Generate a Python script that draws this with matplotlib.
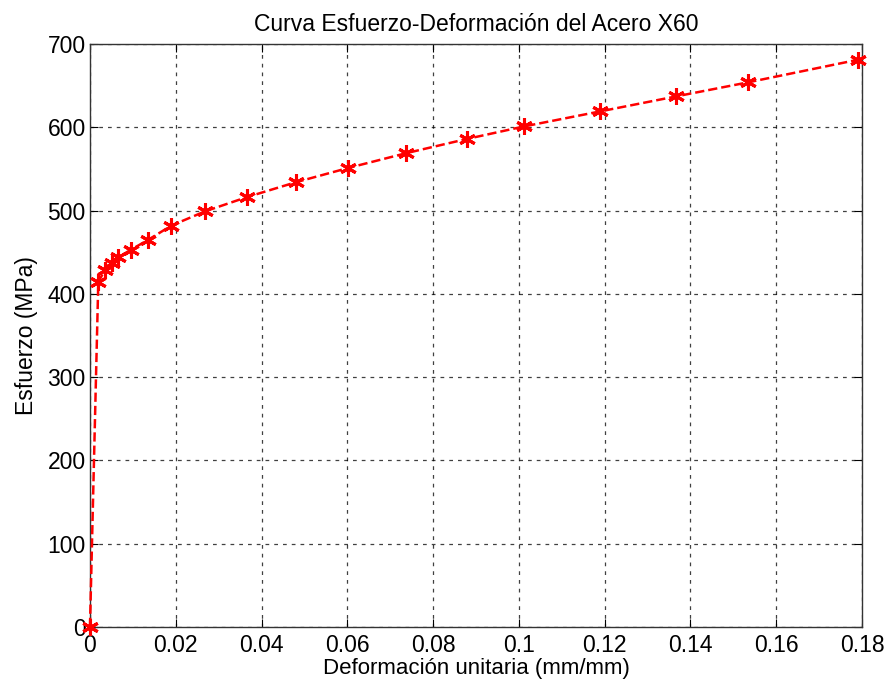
import matplotlib
matplotlib.use("Agg")
import matplotlib.pyplot as plt
import numpy as np

plt.rcParams['font.family'] = ['Liberation Sans', 'DejaVu Sans']

# strain (mm/mm) and stress (MPa)
deformacion = [0.0, 0.00194, 0.0035, 0.00506, 0.0066, 0.00956, 0.0136, 0.0190,
               0.0268, 0.0365, 0.0480, 0.0601, 0.0738, 0.0879, 0.1012, 0.1189,
               0.1366, 0.1535, 0.1790]
esfuerzo = [0, 414, 429, 437, 444, 453, 465, 482,
            499, 516, 534, 551, 569, 586, 601, 619,
            637, 654, 681]

xticks = np.arange(0, 0.181, 0.02)
xticklabels = ['0', '0.02', '0.04', '0.06', '0.08', '0.1', '0.12', '0.14', '0.16', '0.18']
yticks = np.arange(0, 701, 100)

fig = plt.figure(figsize=(8.89, 6.84), dpi=100)
ax = fig.add_axes([0.1012, 0.0833, 0.8684, 0.8524])

ax.plot(deformacion, esfuerzo, color='red', linestyle='--', linewidth=1.8,
        marker=(6, 2, 0), markersize=12, markeredgewidth=2.2,
        markeredgecolor='red', clip_on=False, zorder=3)

ax.set_xlim(0, 0.18)
ax.set_ylim(0, 700)
ax.set_xticks(xticks)
ax.set_xticklabels(xticklabels)
ax.set_yticks(yticks)
ax.tick_params(direction='in', labelsize=16.5, length=6, width=0.8,
               top=True, right=True, pad=3)
ax.tick_params(axis='x', pad=5)
ax.grid(True, color='black', linestyle=(0, (3, 4)), linewidth=0.9, alpha=0.75)
for s in ax.spines.values():
    s.set_linewidth(1.0)
    s.set_color('#333333')

ax.set_title('Curva Esfuerzo-Deformación del Acero X60', fontsize=16.5, pad=9)
ax.set_xlabel('Deformación unitaria (mm/mm)', fontsize=16, labelpad=1)
ax.set_ylabel('Esfuerzo (MPa)', fontsize=16.5, labelpad=7)

fig.savefig('out.png', dpi=100)
